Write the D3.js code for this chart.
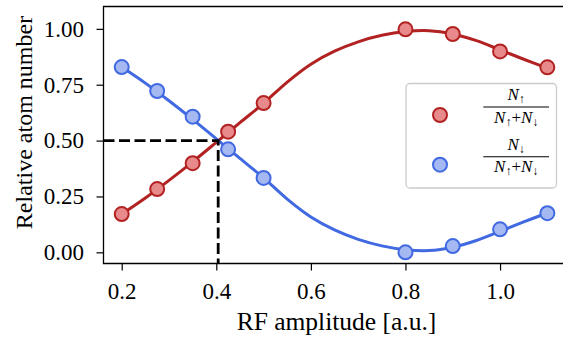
<!DOCTYPE html>
<html>
<head>
<meta charset="utf-8">
<script src="https://cdn.jsdelivr.net/npm/d3@7"></script>
<style>
  html, body { margin: 0; padding: 0; background: #fff; }
  svg { display: block; }
</style>
</head>
<body>
<svg id="chart" width="563" height="338"></svg>
<script>
// Measured points: RF amplitude and relative populations
const amplitude = [0.2, 0.275, 0.35, 0.425, 0.5, 0.8, 0.9, 1.0, 1.1];
const nUp   = [0.171, 0.283, 0.399, 0.540, 0.668, 0.998, 0.977, 0.899, 0.828];
const nDown = [0.829, 0.722, 0.607, 0.461, 0.333, 0.000, 0.028, 0.103, 0.175];

// Fitted curves, sampled along the amplitude axis
const fitAmp  = [0.2, 0.25, 0.3, 0.35, 0.4, 0.45, 0.5, 0.55, 0.6, 0.65, 0.7, 0.75, 0.8, 0.85, 0.9, 0.95, 1.0, 1.05, 1.1];
const fitUp   = [0.171, 0.243, 0.322, 0.405, 0.492, 0.580, 0.667, 0.762, 0.842, 0.900, 0.942, 0.971, 0.988, 0.992, 0.977, 0.947, 0.906, 0.864, 0.824];
const fitDown = [0.829, 0.757, 0.678, 0.595, 0.508, 0.420, 0.333, 0.238, 0.158, 0.100, 0.058, 0.029, 0.012, 0.008, 0.023, 0.053, 0.094, 0.136, 0.176];

// Equal-population crossing
const crossAmp = 0.404;
const crossLevel = 0.5;

const xTicks = [0.2, 0.4, 0.6, 0.8, 1.0];
const yTicks = [0.0, 0.25, 0.5, 0.75, 1.0];

const upLine = "#b22222", upFill = "#e88a8c";
const downLine = "#4169e1", downFill = "#a6b8f2";
const textFont = '"Liberation Serif"';

const svg = d3.select("#chart");
const plotL = 103.5, plotR = 568.4, plotT = 6.5, plotB = 263.5;

const x = d3.scaleLinear().domain([0.1615, 1.1445]).range([plotL, plotR]);
const y = d3.scaleLinear().domain([-0.05, 1.1]).range([plotB, plotT]);

const fontSize = 23;

// Axes
const xAxis = svg.append("g")
  .attr("transform", `translate(0,${plotB})`)
  .call(d3.axisBottom(x).tickValues(xTicks).tickFormat(d3.format(".1f")).tickSize(7).tickPadding(12.5).tickSizeOuter(0));
const yAxis = svg.append("g")
  .attr("transform", `translate(${plotL},0)`)
  .call(d3.axisLeft(y).tickValues(yTicks).tickFormat(d3.format(".2f")).tickSize(7).tickPadding(12.5).tickSizeOuter(0));

[xAxis, yAxis].forEach(g => {
  g.attr("font-family", null).attr("font-size", null);
  g.select(".domain").remove();
  g.selectAll(".tick line").attr("stroke", "#000").attr("stroke-width", 1.2);
  g.selectAll(".tick text").style("font-family", textFont)
    .style("font-size", fontSize + "px").attr("fill", "#000");
});

// Frame (top, left, bottom; right edge lies beyond the canvas)
svg.append("path")
  .attr("d", `M${plotR},${plotT}H${plotL}V${plotB}H${plotR}`)
  .attr("fill", "none").attr("stroke", "#000").attr("stroke-width", 1.3);

// Fit curves
const line = (xs, ys) => d3.line()
  .x((d, i) => x(xs[i])).y(d => y(d))
  .curve(d3.curveCatmullRom.alpha(0.5))(ys);

svg.append("path").attr("d", line(fitAmp, fitUp))
  .attr("fill", "none").attr("stroke", upLine).attr("stroke-width", 3);
svg.append("path").attr("d", line(fitAmp, fitDown))
  .attr("fill", "none").attr("stroke", downLine).attr("stroke-width", 3);

// Markers
svg.append("g").selectAll("circle").data(nUp).join("circle")
  .attr("cx", (d, i) => x(amplitude[i])).attr("cy", d => y(d)).attr("r", 7)
  .attr("fill", upFill).attr("stroke", upLine).attr("stroke-width", 2);
svg.append("g").selectAll("circle").data(nDown).join("circle")
  .attr("cx", (d, i) => x(amplitude[i])).attr("cy", d => y(d)).attr("r", 7)
  .attr("fill", downFill).attr("stroke", downLine).attr("stroke-width", 2);

// Dashed guides to the crossing point
svg.append("path")
  .attr("d", `M${plotL},${y(crossLevel)}H${x(crossAmp)}V${plotB}`)
  .attr("fill", "none").attr("stroke", "#000").attr("stroke-width", 2.8)
  .attr("stroke-dasharray", "11,4.5");

// Axis titles
svg.append("text")
  .attr("x", 336.5).attr("y", 329.5)
  .attr("text-anchor", "middle")
  .style("font-family", textFont).style("font-size", "25.5px")
  .text("RF amplitude [a.u.]");
svg.append("text")
  .attr("transform", "translate(31.5,122.5) rotate(-90)")
  .attr("text-anchor", "middle")
  .style("font-family", textFont).style("font-size", "24px")
  .text("Relative atom number");

// Legend
const lg = svg.append("g");
lg.append("rect")
  .attr("x", 406).attr("y", 83.5).attr("width", 150.5).attr("height", 104.5)
  .attr("rx", 4).attr("fill", "#fff").attr("fill-opacity", 0.8)
  .attr("stroke", "#cccccc").attr("stroke-width", 1.3);

const entries = [
  { fill: upFill, stroke: upLine, cy: 115, num: "↑" },
  { fill: downFill, stroke: downLine, cy: 164.7, num: "↓" }
];
const mathSize = 17;
const subSize = 12;
entries.forEach(e => {
  lg.append("circle").attr("cx", 440).attr("cy", e.cy).attr("r", 7)
    .attr("fill", e.fill).attr("stroke", e.stroke).attr("stroke-width", 2);
  const cx = 516.2;
  const barY = e.cy - 8;
  // numerator
  const nt = lg.append("text").attr("x", cx).attr("y", barY - 7)
    .attr("text-anchor", "middle")
    .style("font-family", textFont).style("font-size", mathSize + "px");
  nt.append("tspan").style("font-style", "italic").text("N");
  nt.append("tspan").style("font-size", subSize + "px").attr("dy", 3).text(e.num);
  // fraction bar
  lg.append("line").attr("x1", 483.3).attr("x2", 549).attr("y1", barY).attr("y2", barY)
    .attr("stroke", "#000").attr("stroke-width", 1.1);
  // denominator
  const dt = lg.append("text").attr("x", cx).attr("y", barY + 15.5)
    .attr("text-anchor", "middle")
    .style("font-family", textFont).style("font-size", mathSize + "px");
  dt.append("tspan").style("font-style", "italic").text("N");
  dt.append("tspan").style("font-size", subSize + "px").attr("dy", 3).text("↑");
  dt.append("tspan").attr("dy", -3).text("+");
  dt.append("tspan").style("font-style", "italic").text("N");
  dt.append("tspan").style("font-size", subSize + "px").attr("dy", 3).text("↓");
});
</script>
</body>
</html>
